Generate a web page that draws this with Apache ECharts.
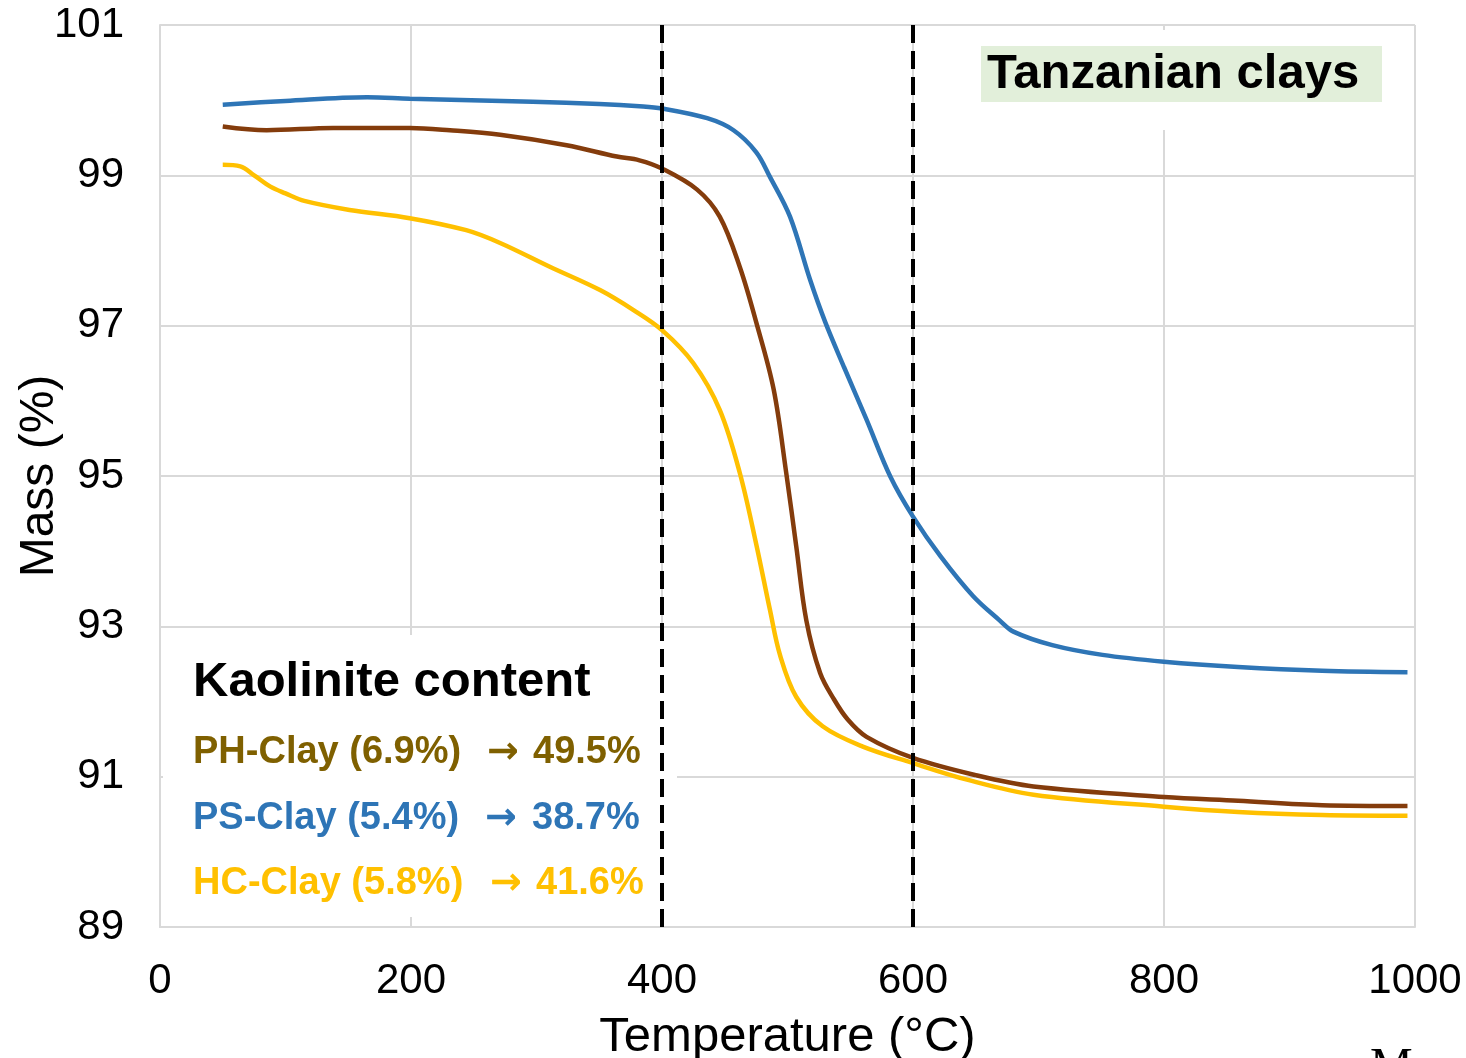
<!DOCTYPE html>
<html>
<head>
<meta charset="utf-8">
<script src="https://cdn.jsdelivr.net/npm/echarts@6/dist/echarts.min.js"></script>
<style>
html,body{margin:0;padding:0;background:#fff;}
#chart{width:1466px;height:1058px;}
</style>
</head>
<body>
<div id="chart"></div>
<script>
// ---- Data ----
const xTicks = [0, 200, 400, 600, 800, 1000];
const yTicks = [89, 91, 93, 95, 97, 99, 101];

const phTemp = [50, 85, 138, 199, 231, 271, 324, 364, 382, 400, 428, 446, 462, 475, 489, 499, 507, 515, 526, 537, 548, 563, 600, 650, 696, 800, 859, 926, 994];
const phMass = [99.65, 99.60, 99.63, 99.63, 99.60, 99.54, 99.40, 99.25, 99.20, 99.09, 98.81, 98.45, 97.78, 97.05, 96.15, 95.04, 94.06, 93.08, 92.38, 92.03, 91.76, 91.53, 91.25, 91.02, 90.87, 90.73, 90.68, 90.62, 90.61];

const psTemp = [50, 100, 165, 199, 297, 350, 382, 400, 436, 457, 475, 486, 502, 518, 530, 545, 563, 582, 600, 622, 648, 669, 680, 711, 751, 800, 859, 926, 994];
const psMass = [99.94, 99.99, 100.04, 100.02, 99.98, 99.95, 99.92, 99.89, 99.76, 99.60, 99.31, 98.98, 98.45, 97.61, 97.05, 96.45, 95.75, 94.99, 94.46, 93.93, 93.40, 93.08, 92.93, 92.75, 92.62, 92.53, 92.46, 92.41, 92.39];

const hcTemp = [50, 64, 75, 88, 100, 115, 151, 199, 244, 271, 311, 351, 377, 400, 425, 446, 462, 475, 486, 494, 507, 528, 560, 600, 643, 696, 800, 859, 926, 994];
const hcMass = [99.14, 99.12, 99.00, 98.85, 98.76, 98.66, 98.54, 98.43, 98.27, 98.10, 97.78, 97.47, 97.21, 96.94, 96.50, 95.88, 95.04, 94.10, 93.22, 92.62, 92.06, 91.67, 91.40, 91.18, 90.96, 90.76, 90.60, 90.53, 90.49, 90.48];

const markTemps = [400, 600];

const seriesNames = ['PH-Clay', 'PS-Clay', 'HC-Clay'];
const legendLines = [
  ['PH-Clay (6.9%)', '\u2192', '49.5%'],
  ['PS-Clay (5.4%)', '\u2192', '38.7%'],
  ['HC-Clay (5.8%)', '\u2192', '41.6%']
];

// ---- Styles ----
const FONT = "'Liberation Sans', Arial, Helvetica, sans-serif";
const lineColors = ['#843C0C', '#2E75B6', '#FFC000'];
const textColors = ['#7F6000', '#2E75B6', '#FFC000'];
const gridColor = '#D9D9D9';

function pairs(xs, ys) { return xs.map((x, i) => [x, ys[i]]); }

const chart = echarts.init(document.getElementById('chart'), null, {renderer: 'canvas'});

const rowCenters = [753, 819, 884];
const rowX = [[193, 487, 533], [193, 485, 532], [193, 490, 536]];

const graphics = [
  {type: 'rect', z: 1, shape: {x: 163, y: 635, width: 514, height: 282}, style: {fill: '#ffffff'}},
  {type: 'rect', z: 1, shape: {x: 960, y: 30, width: 445, height: 100}, style: {fill: '#ffffff'}},
  {type: 'rect', z: 1, shape: {x: 981, y: 46, width: 401, height: 56}, style: {fill: '#E2EFDA'}},
  {type: 'text', z: 5, style: {text: 'Tanzanian clays', x: 987, y: 74, textVerticalAlign: 'middle', font: "bold 49px " + FONT, fill: '#000'}},
  {type: 'text', z: 5, style: {text: 'Kaolinite content', x: 193, y: 682, textVerticalAlign: 'middle', font: "bold 49px " + FONT, fill: '#000'}},
  {type: 'text', z: 5, style: {text: 'M', x: 1370, y: 1068, textVerticalAlign: 'middle', font: "48px 'Liberation Serif', 'DejaVu Serif', serif", fill: '#000'}}
];
legendLines.forEach((row, i) => {
  row.forEach((t, j) => {
    graphics.push({type: 'text', z: 5, style: {
      text: t, x: rowX[i][j], y: rowCenters[i], textVerticalAlign: 'middle',
      font: "bold 38px " + (j === 1 ? "'DejaVu Sans', " + FONT : FONT), fill: textColors[i]
    }});
  });
});

const option = {
  animation: false,
  backgroundColor: '#ffffff',
  grid: {left: 160, right: 51, top: 25, bottom: 131, containLabel: false, outerBoundsMode: 'none'},
  xAxis: {
    type: 'value', min: xTicks[0], max: xTicks[xTicks.length - 1], interval: 200,
    name: 'Temperature (\u00B0C)', nameLocation: 'middle', nameGap: 86, nameMoveOverlap: false,
    nameTextStyle: {fontFamily: FONT, fontSize: 49, color: '#000'},
    axisLine: {show: true, lineStyle: {color: gridColor, width: 2}},
    axisTick: {show: false},
    axisLabel: {fontFamily: FONT, fontSize: 42, color: '#000', margin: 33, formatter: v => String(v)},
    splitLine: {show: true, lineStyle: {color: gridColor, width: 2}}
  },
  yAxis: {
    type: 'value', min: yTicks[0], max: yTicks[yTicks.length - 1], interval: 2,
    name: 'Mass (%)', nameLocation: 'middle', nameGap: 96, nameRotate: 90, nameMoveOverlap: false,
    nameTextStyle: {fontFamily: FONT, fontSize: 48, color: '#000'},
    axisLine: {show: true, lineStyle: {color: gridColor, width: 2}},
    axisTick: {show: false},
    axisLabel: {fontFamily: FONT, fontSize: 42, color: '#000', margin: 36, formatter: v => String(v)},
    splitLine: {show: true, lineStyle: {color: gridColor, width: 2}}
  },
  series: [
    {name: seriesNames[0], type: 'line', data: pairs(phTemp, phMass), showSymbol: false, smooth: 0.35, z: 3,
     lineStyle: {color: lineColors[0], width: 4.5}, itemStyle: {color: lineColors[0]}},
    {name: seriesNames[1], type: 'line', data: pairs(psTemp, psMass), showSymbol: false, smooth: 0.35, z: 3,
     lineStyle: {color: lineColors[1], width: 4.5}, itemStyle: {color: lineColors[1]}},
    {name: seriesNames[2], type: 'line', data: pairs(hcTemp, hcMass), showSymbol: false, smooth: 0.35, z: 3,
     lineStyle: {color: lineColors[2], width: 4.5}, itemStyle: {color: lineColors[2]},
     markLine: {silent: true, symbol: ['none', 'none'], label: {show: false}, z: 4,
       lineStyle: {color: '#000', width: 4, type: [18, 8]},
       data: markTemps.map(t => ({xAxis: t}))}}
  ],
  graphic: graphics
};
chart.setOption(option);
</script>
</body>
</html>
